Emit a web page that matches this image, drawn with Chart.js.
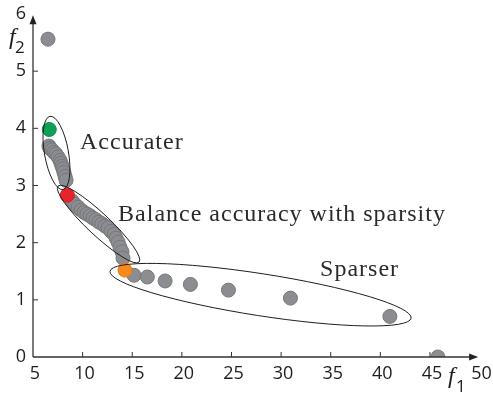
<!DOCTYPE html>
<html>
<head>
<meta charset="utf-8">
<script src="https://cdn.jsdelivr.net/npm/chart.js@4.4.1/dist/chart.umd.min.js"></script>
<style>
  html, body { margin: 0; padding: 0; background: #fff; }
  #wrap { width: 493px; height: 395px; }
</style>
</head>
<body>
<div id="wrap"><canvas id="c" width="493" height="395"></canvas></div>
<script>
// Pareto front solutions (f1, f2)
const frontF1 = [6.51, 6.61, 6.71, 6.92, 7.12, 7.32, 7.52, 7.72, 7.82, 7.92, 8.02, 8.12, 8.23, 8.33,
  8.93, 9.23, 9.54, 9.84, 10.14, 10.44, 10.75, 11.05, 11.35, 11.65, 11.96, 12.26, 12.56, 12.86,
  13.17, 13.37, 13.57, 13.77, 13.97, 14.07,
  15.18, 16.52, 18.31, 20.86, 24.69, 30.94, 40.96, 45.8];
const frontF2 = [5.56, 3.69, 3.65, 3.62, 3.58, 3.55, 3.50, 3.44, 3.39, 3.34, 3.29, 3.23, 3.16, 3.09,
  2.73, 2.67, 2.62, 2.57, 2.53, 2.50, 2.47, 2.43, 2.40, 2.36, 2.33, 2.29, 2.26, 2.20,
  2.15, 2.08, 2.01, 1.92, 1.84, 1.73,
  1.43, 1.40, 1.33, 1.27, 1.17, 1.03, 0.71, 0.0];

// Highlighted solutions
const accurateF1 = [6.64], accurateF2 = [3.98];
const balancedF1 = [8.46], balancedF2 = [2.83];
const sparseF1 = [14.27], sparseF2 = [1.52];

// Axis ticks
const xTicks = [5, 10, 15, 20, 25, 30, 35, 40, 45, 50];
const yTicks = [0, 1, 2, 3, 4, 5, 6];

// Region labels
const regionLabels = ['Accurater', 'Balance accuracy with sparsity', 'Sparser'];

const toPts = (xs, ys) => xs.map((x, i) => ({ x: x, y: ys[i] }));

// Group outlines: major-axis end points in data units, half-width in px
const groups = [
  { a: [6.71, 4.21], b: [8.02, 2.93], half: 12 },
  { a: [7.52, 2.99], b: [15.69, 1.66], half: 11 },
  { a: [12.76, 1.50], b: [43.10, 0.68], half: 21 }
];
const labelAt = [
  { x: 9.74, y: 3.63 },
  { x: 13.57, y: 2.38 },
  { x: 33.93, y: 1.42 }
];

const decor = {
  id: 'decor',
  afterDatasetsDraw(chart) {
    const ctx = chart.ctx;
    const xs = chart.scales.x, ys = chart.scales.y;
    ctx.save();
    // group outlines
    ctx.strokeStyle = '#1e1e1e';
    ctx.lineWidth = 1;
    groups.forEach(g => {
      const x1 = xs.getPixelForValue(g.a[0]), y1 = ys.getPixelForValue(g.a[1]);
      const x2 = xs.getPixelForValue(g.b[0]), y2 = ys.getPixelForValue(g.b[1]);
      const cx = (x1 + x2) / 2, cy = (y1 + y2) / 2;
      const rx = Math.hypot(x2 - x1, y2 - y1) / 2;
      const rot = Math.atan2(y2 - y1, x2 - x1);
      ctx.beginPath();
      ctx.ellipse(cx, cy, rx, g.half, rot, 0, Math.PI * 2);
      ctx.stroke();
    });
    // region labels
    ctx.fillStyle = '#2a2a2a';
    ctx.font = '24px "Liberation Serif"';
    ctx.letterSpacing = '1px';
    ctx.textAlign = 'left';
    ctx.textBaseline = 'alphabetic';
    regionLabels.forEach((t, i) => {
      ctx.fillText(t, xs.getPixelForValue(labelAt[i].x), ys.getPixelForValue(labelAt[i].y));
    });
    ctx.letterSpacing = '0px';

    // axes
    const x0 = xs.getPixelForValue(5), yb = ys.getPixelForValue(0);
    const xEnd = xs.getPixelForValue(49.85), yTop = ys.getPixelForValue(5.98);
    ctx.strokeStyle = '#333';
    ctx.fillStyle = '#222';
    ctx.lineWidth = 1.3;
    ctx.beginPath();
    ctx.moveTo(x0, yb); ctx.lineTo(xEnd - 6, yb);
    ctx.moveTo(x0, yb); ctx.lineTo(x0, yTop + 6);
    ctx.stroke();
    // arrow heads
    ctx.beginPath();
    ctx.moveTo(xEnd, yb); ctx.lineTo(xEnd - 9, yb - 3.5); ctx.lineTo(xEnd - 9, yb + 3.5); ctx.closePath();
    ctx.fill();
    ctx.beginPath();
    ctx.moveTo(x0, yTop); ctx.lineTo(x0 - 3.5, yTop + 9); ctx.lineTo(x0 + 3.5, yTop + 9); ctx.closePath();
    ctx.fill();
    // tick marks (inward)
    ctx.lineWidth = 1;
    ctx.beginPath();
    xTicks.forEach(v => {
      if (v === 5 || v === 50) return;
      const px = xs.getPixelForValue(v);
      ctx.moveTo(px, yb); ctx.lineTo(px, yb - 5);
    });
    yTicks.forEach(v => {
      if (v === 0 || v === 6) return;
      const py = ys.getPixelForValue(v);
      ctx.moveTo(x0, py); ctx.lineTo(x0 + 5, py);
    });
    ctx.stroke();
    // tick labels
    ctx.font = '18px "Open Sans"';
    ctx.fillStyle = '#1e1e1e';
    ctx.textAlign = 'center';
    ctx.textBaseline = 'middle';
    xTicks.forEach(v => {
      ctx.fillText(String(v), xs.getPixelForValue(v) + 2, yb + 17);
    });
    ctx.textAlign = 'right';
    yTicks.forEach(v => {
      ctx.fillText(String(v), x0 - 7, ys.getPixelForValue(v));
    });
    // axis titles
    ctx.textAlign = 'left';
    ctx.textBaseline = 'alphabetic';
    ctx.font = 'italic 24px "Liberation Serif"';
    ctx.fillText('f', 9, 44);
    ctx.fillText('f', 448, 383);
    ctx.font = '17px "Open Sans"';
    ctx.fillText('2', 15, 53);
    ctx.fillText('1', 456, 392);
    ctx.restore();
  }
};

new Chart(document.getElementById('c'), {
  type: 'scatter',
  data: {
    datasets: [
      { data: toPts(accurateF1, accurateF2), backgroundColor: '#0f9f57', borderColor: '#0c8a4a', order: 0 },
      { data: toPts(balancedF1, balancedF2), backgroundColor: '#e8232b', borderColor: '#d01e26', order: 0 },
      { data: toPts(sparseF1, sparseF2), backgroundColor: '#f68a1f', borderColor: '#e07a15', order: 0 },
      { data: toPts(frontF1, frontF2), backgroundColor: '#8c8d91', borderColor: '#76777b', order: 1 }
    ]
  },
  options: {
    responsive: false,
    animation: false,
    devicePixelRatio: 1,
    layout: { padding: { left: 33, right: 13.4, top: 14, bottom: 38 } },
    elements: { point: { radius: 7, borderWidth: 1, hoverRadius: 7 } },
    plugins: { legend: { display: false }, tooltip: { enabled: false } },
    scales: {
      x: { type: 'linear', min: 5, max: 50, display: false },
      y: { type: 'linear', min: 0, max: 6, display: false }
    }
  },
  plugins: [decor]
});
</script>
</body>
</html>
